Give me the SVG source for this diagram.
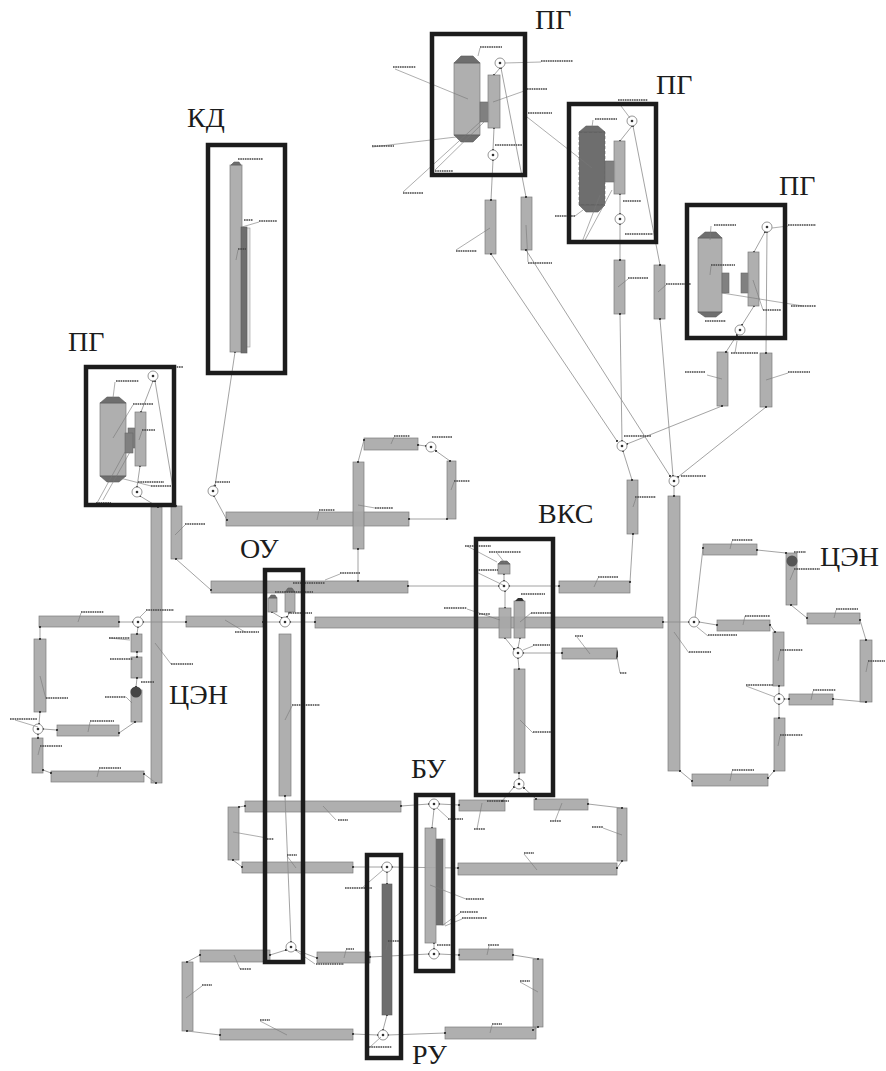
<svg xmlns="http://www.w3.org/2000/svg" width="886" height="1071" viewBox="0 0 886 1071">
<style>
.p{fill:#a8a8a8;fill-opacity:.92;stroke:#7d7d7d;stroke-width:.7}
.d{fill:#6e6e6e;stroke:#5a5a5a;stroke-width:.6}
.m{fill:#808080;stroke:#666;stroke-width:.6}
.l{fill:#e4e4e4;stroke:#999;stroke-width:.6}
.n{fill:#fff;stroke:#8a8a8a;stroke-width:.9}
.o{fill:#333}
.f{fill:none;stroke:#1c1c1c;stroke-width:4.5}
.t{font-family:"Liberation Serif","Noto Sans CJK SC",serif;font-size:28px;fill:#1c1c1c}
.c{fill:none;stroke:#8c8c8c;stroke-width:.8;marker-start:url(#dot);marker-end:url(#dot)}
.ld{fill:none;stroke:#777;stroke-width:.6}
.tag{fill:none;stroke:#444;stroke-width:1.7;stroke-dasharray:1.6 .7}
</style>
<defs>
<filter id="b" x="-2%" y="-2%" width="104%" height="104%"><feGaussianBlur stdDeviation=".5"/></filter>
<marker id="dot" markerUnits="userSpaceOnUse" markerWidth="3" markerHeight="3" refX="1.5" refY="1.5"><circle cx="1.5" cy="1.5" r="1.1" fill="#333"/></marker>
</defs>
<rect width="886" height="1071" fill="#fff"/>
<g filter="url(#b)">
<g id="pipes">
<g id="pipe-01"><rect class="p" x="485" y="200" width="11" height="54"/></g>
<g id="pipe-02"><rect class="p" x="521" y="197" width="11" height="53"/></g>
<g id="pipe-03"><rect class="p" x="614" y="260" width="11" height="54"/></g>
<g id="pipe-04"><rect class="p" x="654" y="265" width="11" height="54"/></g>
<g id="pipe-05"><rect class="p" x="717" y="352" width="11" height="54"/></g>
<g id="pipe-06"><rect class="p" x="760" y="353" width="12" height="54"/></g>
<g id="pipe-07"><rect class="p" x="627" y="480" width="11" height="54"/></g>
<g id="pipe-08"><rect class="p" x="668" y="496" width="12" height="275"/></g>
<g id="pipe-09"><rect class="p" x="151" y="507" width="11" height="276"/></g>
<g id="pipe-10"><rect class="p" x="171" y="506" width="11" height="53"/></g>
<g id="pipe-11"><rect class="p" x="226" y="512" width="183" height="14"/></g>
<g id="pipe-12"><rect class="p" x="353" y="462" width="11" height="87"/></g>
<g id="pipe-13"><rect class="p" x="364" y="438" width="54" height="12"/></g>
<g id="pipe-14"><rect class="p" x="447" y="461" width="9" height="58"/></g>
<g id="pipe-15"><rect class="p" x="211" y="581" width="197" height="12"/></g>
<g id="pipe-16"><rect class="p" x="559" y="581" width="71" height="12"/></g>
<g id="pipe-17"><rect class="p" x="315" y="617" width="348" height="11"/></g>
<g id="pipe-18"><rect class="p" x="186" y="616" width="77" height="11"/></g>
<g id="pipe-19"><rect class="p" x="39" y="616" width="80" height="11"/></g>
<g id="pipe-20"><rect class="p" x="131" y="634" width="11" height="18"/></g>
<g id="pipe-21"><rect class="p" x="131" y="657" width="11" height="21"/></g>
<g id="pipe-22"><rect class="p" x="131" y="690" width="11" height="32"/></g>
<g id="pipe-23"><rect class="p" x="34" y="639" width="12" height="73"/></g>
<g id="pipe-24"><rect class="p" x="57" y="725" width="62" height="11"/></g>
<g id="pipe-25"><rect class="p" x="32" y="738" width="11" height="35"/></g>
<g id="pipe-26"><rect class="p" x="51" y="771" width="93" height="11"/></g>
<g id="pipe-27"><rect class="p" x="279" y="634" width="12" height="162"/></g>
<g id="pipe-28"><rect class="p" x="245" y="801" width="156" height="11"/></g>
<g id="pipe-29"><rect class="p" x="228" y="807" width="11" height="53"/></g>
<g id="pipe-30"><rect class="p" x="242" y="862" width="111" height="11"/></g>
<g id="pipe-31"><rect class="p" x="458" y="863" width="159" height="12"/></g>
<g id="pipe-32"><rect class="p" x="459" y="800" width="46" height="11"/></g>
<g id="pipe-33"><rect class="p" x="534" y="799" width="54" height="11"/></g>
<g id="pipe-34"><rect class="p" x="617" y="808" width="10" height="53"/></g>
<g id="pipe-35"><rect class="p" x="200" y="950" width="70" height="12"/></g>
<g id="pipe-36"><rect class="p" x="182" y="962" width="11" height="69"/></g>
<g id="pipe-37"><rect class="p" x="220" y="1029" width="133" height="11"/></g>
<g id="pipe-38"><rect class="p" x="445" y="1027" width="91" height="12"/></g>
<g id="pipe-39"><rect class="p" x="533" y="959" width="10" height="68"/></g>
<g id="pipe-40"><rect class="p" x="459" y="949" width="54" height="11"/></g>
<g id="pipe-41"><rect class="p" x="317" y="952" width="53" height="11"/></g>
<g id="pipe-42"><rect class="p" x="562" y="648" width="55" height="11"/></g>
<g id="pipe-43"><rect class="p" x="514" y="669" width="11" height="104"/></g>
<g id="pipe-44"><rect class="p" x="717" y="620" width="53" height="11"/></g>
<g id="pipe-45"><rect class="p" x="703" y="544" width="54" height="11"/></g>
<g id="pipe-46"><rect class="p" x="786" y="553" width="11" height="52"/></g>
<g id="pipe-47"><rect class="p" x="807" y="613" width="53" height="11"/></g>
<g id="pipe-48"><rect class="p" x="860" y="640" width="12" height="62"/></g>
<g id="pipe-49"><rect class="p" x="789" y="694" width="44" height="11"/></g>
<g id="pipe-50"><rect class="p" x="773" y="632" width="11" height="54"/></g>
<g id="pipe-51"><rect class="p" x="774" y="718" width="11" height="53"/></g>
<g id="pipe-52"><rect class="p" x="692" y="774" width="76" height="12"/></g>
</g>
<g id="connectors">
<path class="c" d="M500 68L494 75"/><path class="c" d="M494 128L493 150"/><path class="c" d="M493 160L491 200"/><path class="c" d="M501 68L526 197"/>
<path class="c" d="M491 254L617 441"/><path class="c" d="M526 250L670 476"/>
<path class="c" d="M632 126L620 141"/><path class="c" d="M620 194L620 214"/><path class="c" d="M620 224L620 260"/><path class="c" d="M633 126L660 265"/>
<path class="c" d="M620 314L622 441"/><path class="c" d="M660 319L673 476"/>
<path class="c" d="M765 232L754 252"/><path class="c" d="M754 306L742 325"/><path class="c" d="M737 335L726 352"/><path class="c" d="M767 232L766 353"/>
<path class="c" d="M722 406L627 444"/><path class="c" d="M766 407L678 477"/><path class="c" d="M623 451L632 480"/><path class="c" d="M674 486L674 496"/>
<path class="c" d="M633 534L630 582"/><path class="c" d="M559 586L509 586"/><path class="c" d="M408 586L499 586"/><path class="c" d="M504 581L504 574"/>
<path class="c" d="M505 591L505 608"/><path class="c" d="M505 638L514 649"/><path class="c" d="M520 638L518 648"/><path class="c" d="M523 653L562 653"/>
<path class="c" d="M518 658L519 669"/><path class="c" d="M519 773L519 779"/><path class="c" d="M514 787L502 801"/><path class="c" d="M524 788L536 799"/>
<path class="c" d="M290 622L315 622"/><path class="c" d="M263 622L280 622"/><path class="c" d="M186 622L143 622"/><path class="c" d="M133 622L119 622"/>
<path class="c" d="M272 612L282 618"/><path class="c" d="M290 612L287 617"/>
<path class="c" d="M138 627L137 634"/><path class="c" d="M137 652L137 657"/><path class="c" d="M137 678L136 687"/><path class="c" d="M40 627L40 639"/>
<path class="c" d="M40 712L39 724"/><path class="c" d="M43 729L57 730"/><path class="c" d="M38 734L38 738"/><path class="c" d="M119 733L135 722"/>
<path class="c" d="M43 770L51 773"/><path class="c" d="M144 774L156 783"/><path class="c" d="M176 559L211 590"/><path class="c" d="M214 496L227 520"/>
<path class="c" d="M235 352L215 486"/><path class="c" d="M358 462L364 440"/><path class="c" d="M418 445L426 446"/><path class="c" d="M436 451L450 461"/>
<path class="c" d="M409 519L447 519"/><path class="c" d="M358 549L358 581"/><path class="c" d="M153 381L141 412"/><path class="c" d="M140 466L137 487"/>
<path class="c" d="M155 381L176 506"/><path class="c" d="M140 496L158 507"/>
<path class="c" d="M663 622L689 622"/><path class="c" d="M699 622L717 625"/><path class="c" d="M695 618L703 548"/><path class="c" d="M757 550L786 553"/>
<path class="c" d="M791 605L807 618"/><path class="c" d="M860 620L866 640"/><path class="c" d="M866 702L833 699"/><path class="c" d="M789 699L784 699"/>
<path class="c" d="M770 625L775 632"/><path class="c" d="M779 686L779 694"/><path class="c" d="M779 704L779 718"/><path class="c" d="M774 771L768 778"/><path class="c" d="M692 781L680 771"/>
<path class="c" d="M285 796L291 942"/><path class="c" d="M401 806L429 804"/><path class="c" d="M439 804L459 805"/><path class="c" d="M434 809L432 828"/><path class="c" d="M434 943L434 949"/>
<path class="c" d="M353 867L382 867"/><path class="c" d="M392 867L458 868"/><path class="c" d="M387 872L387 884"/><path class="c" d="M387 1015L383 1030"/>
<path class="c" d="M353 1034L378 1035"/><path class="c" d="M388 1035L445 1033"/><path class="c" d="M370 957L429 954"/><path class="c" d="M439 954L459 955"/>
<path class="c" d="M270 955L286 950"/><path class="c" d="M296 950L317 958"/><path class="c" d="M200 955L187 962"/><path class="c" d="M187 1031L220 1035"/>
<path class="c" d="M513 955L538 959"/><path class="c" d="M538 1027L533 1030"/><path class="c" d="M588 804L622 808"/><path class="c" d="M622 861L617 868"/>
<path class="c" d="M239 807L245 806"/><path class="c" d="M233 860L242 867"/>
</g>
<g id="equipment">
<g id="pg1-unit"><rect class="p" x="454" y="63" width="26" height="72"/><path class="d" d="M454 63L461 56H473L480 63ZM454 135L461 142H473L480 135Z"/><rect class="m" x="480" y="102" width="9" height="20"/><rect class="p" x="488" y="75" width="12" height="53"/></g>
<g id="pg2-unit"><rect class="d" x="579" y="132" width="26" height="73" stroke-dasharray="3 2" stroke-width="1.6"/><path class="d" d="M579 132L586 126H598L605 132ZM579 205L586 212H598L605 205Z"/><rect class="m" x="605" y="161" width="10" height="21"/><rect class="p" x="614" y="141" width="11" height="53"/></g>
<g id="pg3-unit"><rect class="p" x="698" y="238" width="24" height="74"/><path class="d" d="M698 238L705 232H716L722 238ZM698 312L705 317H716L722 312Z"/><rect class="m" x="722" y="273" width="7" height="20"/><rect class="m" x="741" y="273" width="8" height="20"/><rect class="p" x="748" y="252" width="11" height="54"/></g>
<g id="pg4-unit"><rect class="p" x="100" y="403" width="26" height="73"/><path class="d" d="M100 403L107 397H119L126 403ZM100 476L107 482H119L126 476Z"/><rect class="m" x="128" y="428" width="7" height="20"/><rect class="m" x="125" y="433" width="8" height="20"/><rect class="p" x="135" y="412" width="11" height="54"/></g>
<g id="kd-unit"><rect class="p" x="230" y="165" width="12" height="187"/><path class="d" d="M231 165L234 162H239L241 165Z"/><rect class="l" x="246" y="228" width="4" height="119"/><rect class="d" x="241" y="227" width="6" height="126"/></g>
<g id="ou-unit"><rect class="p" x="268" y="598" width="9" height="14"/><rect class="p" x="285" y="592" width="10" height="20"/><path class="d" d="M285 592L288 588H292L295 592Z"/><path class="d" d="M269 598L271 595H275L277 598Z"/></g>
<g id="vks-unit"><rect class="p" x="498" y="564" width="12" height="10"/><path class="d" d="M498 564L501 561H507L510 564Z"/><rect class="p" x="499" y="608" width="12" height="30"/><rect class="p" x="514" y="601" width="11" height="37"/><path class="o" d="M515 601L518 598H522L524 601Z"/><path class="o" d="M617 649L618 652V657L616 659Z"/></g>
<g id="bu-unit"><rect class="l" x="442" y="839" width="3" height="86"/><rect class="d" x="436" y="839" width="7" height="86"/><rect class="p" x="425" y="828" width="11" height="115"/></g>
<g id="ru-unit"><rect class="d" x="382" y="884" width="10" height="131"/></g>
<g id="pump-left"><circle cx="136" cy="692" r="5.5" fill="#444"/></g>
<g id="pump-right"><circle cx="792" cy="561" r="5.5" fill="#555"/></g>
</g>
<g id="junctions">
<g id="j01"><circle class="n" cx="500" cy="63" r="5"/><circle class="o" cx="500" cy="63" r="1.3"/></g>
<g id="j02"><circle class="n" cx="493" cy="155" r="5"/><circle class="o" cx="493" cy="155" r="1.3"/></g>
<g id="j03"><circle class="n" cx="632" cy="121" r="5"/><circle class="o" cx="632" cy="121" r="1.3"/></g>
<g id="j04"><circle class="n" cx="620" cy="219" r="5"/><circle class="o" cx="620" cy="219" r="1.3"/></g>
<g id="j05"><circle class="n" cx="767" cy="227" r="5"/><circle class="o" cx="767" cy="227" r="1.3"/></g>
<g id="j06"><circle class="n" cx="740" cy="330" r="5"/><circle class="o" cx="740" cy="330" r="1.3"/></g>
<g id="j07"><circle class="n" cx="622" cy="446" r="5"/><circle class="o" cx="622" cy="446" r="1.3"/></g>
<g id="j08"><circle class="n" cx="674" cy="481" r="5"/><circle class="o" cx="674" cy="481" r="1.3"/></g>
<g id="j09"><circle class="n" cx="153" cy="376" r="5"/><circle class="o" cx="153" cy="376" r="1.3"/></g>
<g id="j10"><circle class="n" cx="137" cy="492" r="5"/><circle class="o" cx="137" cy="492" r="1.3"/></g>
<g id="j11"><circle class="n" cx="213" cy="491" r="5"/><circle class="o" cx="213" cy="491" r="1.3"/></g>
<g id="j12"><circle class="n" cx="431" cy="447" r="5"/><circle class="o" cx="431" cy="447" r="1.3"/></g>
<g id="j13"><circle class="n" cx="504" cy="586" r="5"/><circle class="o" cx="504" cy="586" r="1.3"/></g>
<g id="j14"><circle class="n" cx="518" cy="653" r="5"/><circle class="o" cx="518" cy="653" r="1.3"/></g>
<g id="j15"><circle class="n" cx="519" cy="784" r="5"/><circle class="o" cx="519" cy="784" r="1.3"/></g>
<g id="j16"><circle class="n" cx="285" cy="622" r="5"/><circle class="o" cx="285" cy="622" r="1.3"/></g>
<g id="j17"><circle class="n" cx="138" cy="622" r="5"/><circle class="o" cx="138" cy="622" r="1.3"/></g>
<g id="j18"><circle class="n" cx="38" cy="729" r="5"/><circle class="o" cx="38" cy="729" r="1.3"/></g>
<g id="j19"><circle class="n" cx="694" cy="622" r="5"/><circle class="o" cx="694" cy="622" r="1.3"/></g>
<g id="j20"><circle class="n" cx="779" cy="699" r="5"/><circle class="o" cx="779" cy="699" r="1.3"/></g>
<g id="j21"><circle class="n" cx="434" cy="804" r="5"/><circle class="o" cx="434" cy="804" r="1.3"/></g>
<g id="j22"><circle class="n" cx="434" cy="954" r="5"/><circle class="o" cx="434" cy="954" r="1.3"/></g>
<g id="j23"><circle class="n" cx="387" cy="867" r="5"/><circle class="o" cx="387" cy="867" r="1.3"/></g>
<g id="j24"><circle class="n" cx="383" cy="1035" r="5"/><circle class="o" cx="383" cy="1035" r="1.3"/></g>
<g id="j25"><circle class="n" cx="291" cy="947" r="5"/><circle class="o" cx="291" cy="947" r="1.3"/></g>
</g>
<g id="illegible-tag-leaders">
<path class="ld" d="M478 56L480 48M505 63L541 62M395 69L468 99M493 102L527 90M527 117L592 168M372 147L456 137M403 192L480 122M435 170L484 122M456 250L490 228M528 262L526 225M618 102L630 118M593 120L592 127M575 216L583 210M582 242L600 195M585 240L612 190M628 279L618 287M666 285L658 292M711 226L710 240M772 228L788 226M711 266L710 275M722 293L803 306M753 280L763 310M735 353L737 341M707 375L722 379M766 380L788 373M115 382L113 398M133 405L113 438M142 431L139 440M151 486L120 478M97 503L125 452M103 500L130 452M185 525L175 535M215 484L213 486M319 511L317 520M245 632L225 620M146 611L140 617M81 613L78 622M130 640L109 638M171 664L155 643M126 697L132 703M46 699L40 676M15 720L38 727M90 722L88 732M40 747L38 755M99 769L97 777M292 706L285 720M325 580L340 574M394 437L391 444M454 482L451 490M375 508L358 505M467 546L497 562M497 553L505 563M476 572L503 585M467 609L500 620M531 613L520 622M598 578L594 587M577 637L590 654M533 646L523 650M620 673L617 657M533 733L520 720M636 498L633 507M732 541L730 549M794 570L790 580M745 616L743 625M836 610L834 618M708 636L697 627M689 653L674 632M780 651L778 661M868 662L866 672M746 686L775 697M813 691L811 700M780 736L778 746M732 771L730 781M336 820L323 806M267 838L233 832M287 856L296 868M448 818L437 808M477 829L482 803M555 821L562 803M603 828L622 835M524 854L537 870M362 888L383 870M466 899L430 885M460 913L443 925M462 919L445 926M388 942L386 950M346 950L344 958M315 964L295 950M240 969L234 955M202 986L186 998M260 1021L287 1035M492 1025L490 1033M489 946L487 955M520 982L538 992M370 1047L381 1037M259 222L242 227M238 250L236 260"/>
<path class="tag" d="M480 47h22M541 61h32M393 67h23M527 89h20M528 113h24M372 146h22M495 145h27M435 171h18M403 193h20M456 251h21M528 263h24M618 100h30M595 119h22M623 201h18M555 216h20M625 234h28M580 242h18M628 278h20M666 284h25M714 225h22M788 225h28M711 265h24M705 321h21M763 310h18M791 306h25M731 353h27M685 372h20M788 372h22M624 436h27M681 476h25M156 367h27M116 381h23M133 404h20M142 430h13M138 482h26M151 486h20M96 503h15M110 505h8M185 524h20M215 482h15M319 510h16M293 583h32M275 592h38M288 613h24M235 632h24M146 610h28M81 612h23M109 638h21M110 659h23M171 664h22M141 682h13M105 697h21M46 698h22M10 719h27M90 721h24M40 746h22M99 768h22M292 705h28M394 436h16M432 437h20M454 481h16M375 508h18M340 573h20M465 546h26M489 552h32M474 570h24M521 594h24M444 608h23M479 614h11M531 613h21M598 577h20M575 636h8M533 645h17M620 673h7M533 732h18M635 497h21M732 540h21M794 552h12M794 569h26M745 616h25M836 609h22M708 635h29M689 652h22M780 650h23M868 661h17M746 685h27M813 690h23M780 735h23M732 770h22M338 820h10M267 839h7M287 855h10M448 819h15M487 801h22M474 829h11M550 821h11M592 827h11M524 853h10M345 888h27M466 899h18M460 912h18M462 918h25M437 945h14M388 941h12M346 949h8M316 964h28M240 969h11M202 985h10M260 1020h10M492 1024h10M488 945h11M520 981h10M369 1047h23M238 159h25M244 220h9M259 221h18M238 249h8"/>
</g>
</g>
<g id="frame-pg1"><rect class="f" x="432" y="34" width="93" height="141"/><text class="t" x="535" y="29">ПГ</text></g>
<g id="frame-pg2"><rect class="f" x="569" y="104" width="87" height="138"/><text class="t" x="656" y="94">ПГ</text></g>
<g id="frame-pg3"><rect class="f" x="687" y="205" width="98" height="133"/><text class="t" x="779" y="195">ПГ</text></g>
<g id="frame-pg4"><rect class="f" x="86" y="367" width="88" height="138"/><text class="t" x="68" y="351">ПГ</text></g>
<g id="frame-kd"><rect class="f" x="208" y="145" width="77" height="228"/><text class="t" x="187" y="127">КД</text></g>
<g id="frame-ou"><rect class="f" x="265" y="570" width="38" height="392"/><text class="t" x="240" y="558">ОУ</text></g>
<g id="frame-vks"><rect class="f" x="476" y="539" width="77" height="256"/><text class="t" x="538" y="523">ВКС</text></g>
<g id="frame-bu"><rect class="f" x="416" y="795" width="37" height="176"/><text class="t" x="411" y="778">БУ</text></g>
<g id="frame-ru"><rect class="f" x="367" y="855" width="34" height="203"/><text class="t" x="412" y="1064">РУ</text></g>
<g id="label-csn-left"><text class="t" x="169" y="704">ЦЭН</text></g>
<g id="label-csn-right"><text class="t" x="820" y="566">ЦЭН</text></g>
</svg>
